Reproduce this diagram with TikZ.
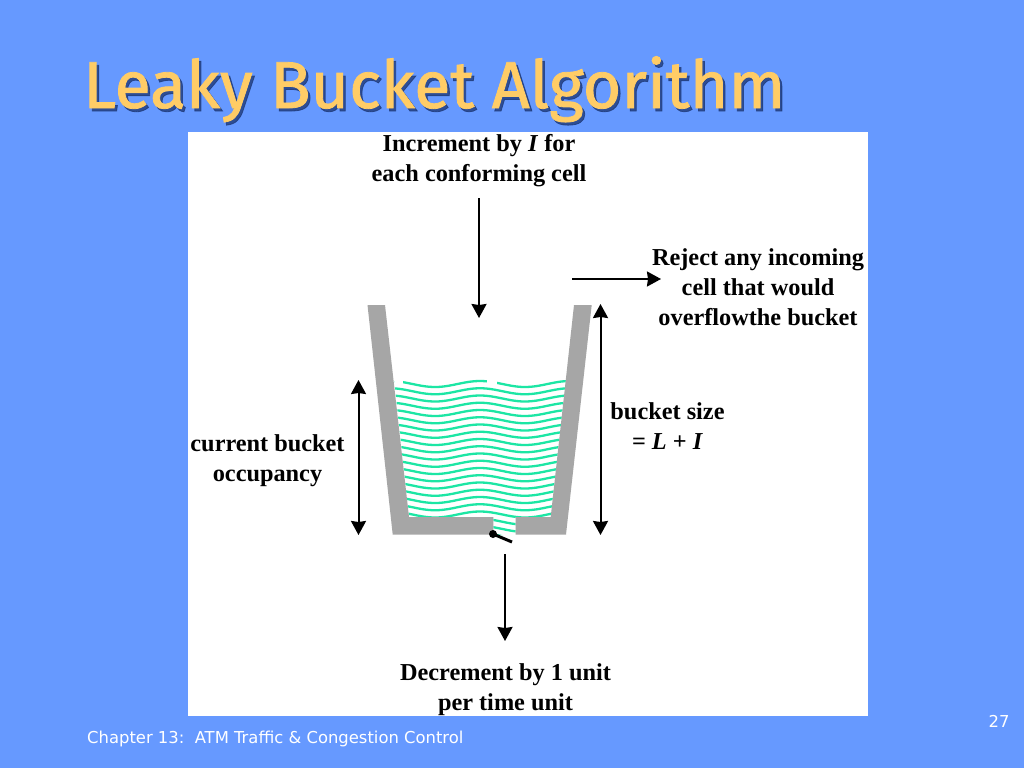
\documentclass[tikz,border=0pt]{standalone}
\usepackage{fontspec}
\setmainfont{Liberation Serif}
\newfontfamily\titlefont[FakeBold=1.2]{Fira Sans}
\newfontfamily\footfont{DejaVu Sans}
\usetikzlibrary{arrows.meta}
\definecolor{slidebg}{HTML}{6699FF}
\definecolor{titlecol}{HTML}{FFCC66}
\definecolor{wallcol}{HTML}{A6A6A6}
\definecolor{watercol}{HTML}{1CE6A4}
\definecolor{shadowcol}{HTML}{1F3A7A}
\tikzset{
  x=1pt,y=-1pt,
  flow/.style={line width=2pt,draw=black,-{Stealth[length=14pt,width=15pt,inset=1pt]}},
  span/.style={line width=2pt,draw=black,{Stealth[length=14pt,width=15pt,inset=1pt]}-{Stealth[length=14pt,width=15pt,inset=1pt]}},
  label/.style={font=\bfseries\fontsize{24.3}{30}\selectfont,align=center,text=black,inner sep=0pt},
  wall/.style={fill=wallcol,draw=none},
  wave/.style={draw=watercol,line width=2.3pt},
  foot/.style={font=\footfont\fontsize{16.4}{18}\selectfont,text=white,inner sep=0pt,anchor=west},
  titletext/.style={font=\titlefont\fontsize{66.3}{70}\selectfont,inner sep=0pt,anchor=base west},
}
\begin{document}
\begin{tikzpicture}
\useasboundingbox (0,0) rectangle (1024,768);
\fill[slidebg] (0,0) rectangle (1024,768);
\node[titletext,text=shadowcol,opacity=.8] (titleshadow) at (85.5,111) {Leaky Bucket Algorithm};
\node[titletext,text=titlecol] (title) at (83,108) {Leaky Bucket Algorithm};
\fill[white] (188,132) rectangle (868,716);
% water
\begin{scope}
\clip (394,379) -- (566,379) -- (550.7,517) -- (515.7,517) -- (515.7,535) -- (493.3,535) -- (493.3,517) -- (409,517) -- cycle;
\foreach \i in {0,...,21}{
  \draw[wave] plot[domain=390:570,samples=60,smooth] (\x,{384+7.25*\i-3*cos(4*(\x-480))});
}
\fill[white] (394,376) rectangle (403,385);
\fill[white] (487,376) rectangle (497,385);
\end{scope}
% bucket
\fill[wall] (367.5,305) -- (385,305) -- (409,517) -- (493.3,517) -- (493.3,534.5) -- (392.7,534.5) -- cycle;
\fill[wall] (591.7,305) -- (574,305) -- (550.7,517) -- (515.7,517) -- (515.7,534.5) -- (566,534.5) -- cycle;
% valve
\coordinate (hinge) at (493,534);
\coordinate (flap) at (512,542);
\draw[line width=3pt] (hinge) -- (flap);
\fill (hinge) circle (4);
% labels
\node[label] (inc) at (479,161) {Increment by \textit{I} for\\each conforming cell};
\node[label] (rej) at (758,287) {Reject any incoming\\cell that would\\overflowthe bucket};
\node[label] (size) at (667.5,426) {bucket size\\= \textit{L} + \textit{I}};
\node[label] (occ) at (267.5,461) {current bucket\\occupancy};
\node[label] (dec) at (505.5,689.5) {Decrement by 1 unit\\per time unit};
% arrows
\coordinate (a1) at (479,198); \coordinate (a2) at (479,318);
\coordinate (b1) at (572,279); \coordinate (b2) at (661,279);
\coordinate (c1) at (600.5,304); \coordinate (c2) at (600.5,535);
\coordinate (d1) at (358.5,380); \coordinate (d2) at (358.5,535);
\coordinate (e1) at (505,554); \coordinate (e2) at (505,641);
\draw[flow] (a1) -- (a2);
\draw[flow] (b1) -- (b2);
\draw[span] (c1) -- (c2);
\draw[span] (d1) -- (d2);
\draw[flow] (e1) -- (e2);
% footer
\node[foot] (chap) at (87,739) {Chapter 13:\ \ ATM Traffic \& Congestion Control};
\node[foot,anchor=center] (page) at (999,721) {27};
\end{tikzpicture}
\end{document}
